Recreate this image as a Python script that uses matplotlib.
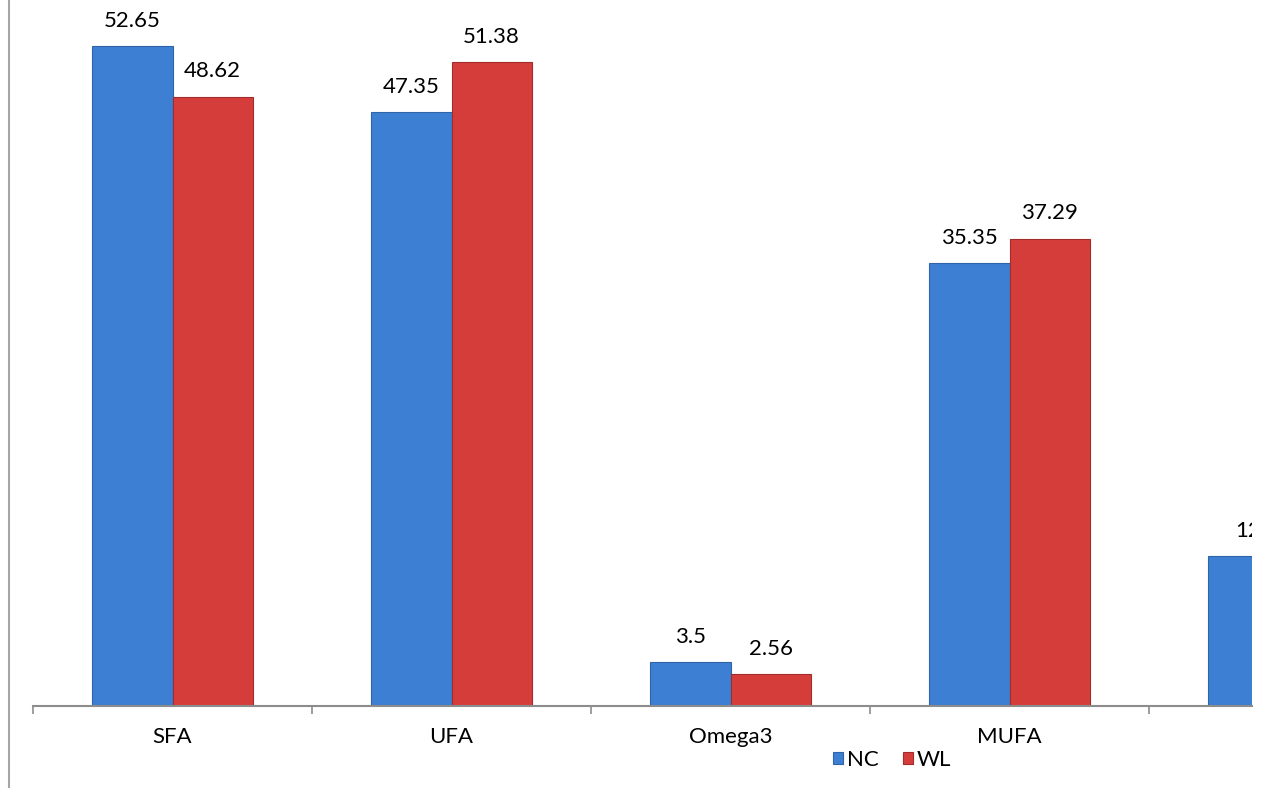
import numpy as np
import matplotlib
matplotlib.use("Agg")
from matplotlib import pyplot as plt
from matplotlib.lines import Line2D

# data
categories = ['SFA', 'UFA', 'Omega3', 'MUFA', 'PUFA']
nc_values = [52.65, 47.35, 3.5, 35.35, 12]
wl_values = [48.62, 51.38, 2.56, 37.29, 14.09]
nc_labels = ['52.65', '47.35', '3.5', '35.35', '12']
wl_labels = ['48.62', '51.38', '2.56', '37.29', '14.09']

plt.rcParams['font.family'] = ['Lato', 'DejaVu Sans']

W, H = 1269, 788
fig = plt.figure(figsize=(W / 100, H / 100), dpi=100)
# the plot area is cut off on the right, like the original
ax = fig.add_axes([33 / W, 1 - 706 / H, (1252 - 33) / W, 706 / H])

x = np.arange(len(categories))
bw = 0.287
ax.bar(x - bw / 2, nc_values, bw, color='#3d7fd3', edgecolor='#2f64a8',
       linewidth=0.8, label='NC')
ax.bar(x + bw / 2, wl_values, bw, color='#d53d3b', edgecolor='#a12c2b',
       linewidth=0.8, label='WL')

for i in range(len(categories)):
    ax.text(x[i] - bw / 2, nc_values[i] + 2.0, nc_labels[i], ha='center',
            va='center', fontsize=16, clip_on=True)
    ax.text(x[i] + bw / 2, wl_values[i] + 2.0, wl_labels[i], ha='center',
            va='center', fontsize=16, clip_on=True)

for s in ['top', 'right', 'left']:
    ax.spines[s].set_visible(False)
ax.spines['bottom'].set_color('#8c8c8c')
ax.spines['bottom'].set_linewidth(1.5)
ax.set_yticks([])

ax.set_xticks(np.arange(len(categories)) - 0.5)
ax.set_xticklabels([])
ax.tick_params(axis='x', which='major', length=6, color='#8c8c8c', width=1.2)
ax.set_xticks(x, minor=True)
ax.set_xticklabels(categories, minor=True, fontsize=16)
ax.tick_params(axis='x', which='minor', length=0, pad=15)

ax.set_xlim(-0.5, (1252 - 33) / 279 - 0.5)
ax.set_ylim(0, 706 / 12.535)

fig.legend(loc='center', bbox_to_anchor=(892 / W, 1 - 760 / H), ncol=2,
           frameon=False, fontsize=16, handlelength=0.45, handleheight=0.45,
           handletextpad=0.15, columnspacing=1.1, borderpad=0)

# outer frame line on the left
fig.add_artist(Line2D([9 / W, 9 / W], [0, 1], color='#a6a6a6', linewidth=1.5))

fig.savefig('out.png', dpi=100)
